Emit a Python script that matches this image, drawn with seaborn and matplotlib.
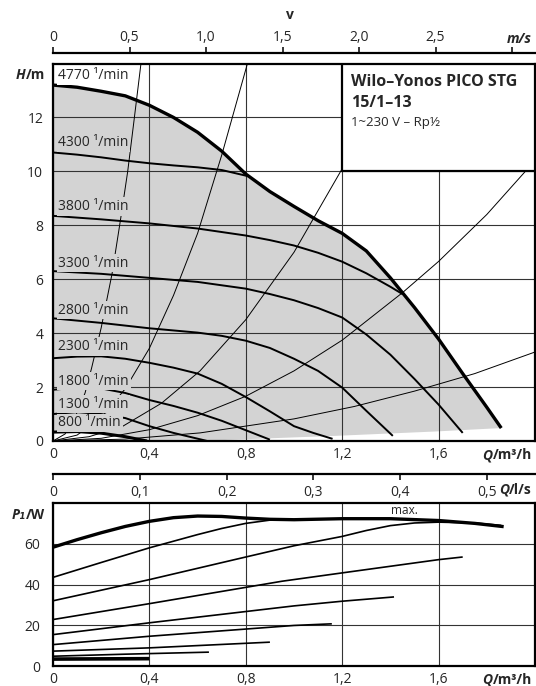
import numpy as np
import pandas as pd
import seaborn as sns
import matplotlib.pyplot as plt
from matplotlib.patches import Rectangle
from matplotlib.ticker import FuncFormatter

# pump curves H(Q) (Q in m3/h, H in m)
speed_labels = ["4770", "4300", "3800", "3300", "2800", "2300", "1800", "1300", "800"]

q_4770 = [0, 0.1, 0.2, 0.3, 0.4, 0.5, 0.6, 0.7, 0.8, 0.9, 1.0, 1.1, 1.2, 1.3,
          1.4, 1.5, 1.6, 1.7, 1.8, 1.86]
h_4770 = [13.2, 13.12, 12.97, 12.8, 12.45, 12.0, 11.45, 10.75, 9.9, 9.25, 8.7, 8.17,
          7.7, 7.05, 6.05, 4.95, 3.78, 2.5, 1.25, 0.48]
q_4300 = [0, 0.1, 0.2, 0.3, 0.4, 0.5, 0.6, 0.7, 0.81]
h_4300 = [10.7, 10.62, 10.52, 10.4, 10.3, 10.22, 10.15, 10.05, 9.82]
q_3800 = [0, 0.2, 0.4, 0.6, 0.8, 0.9, 1.0, 1.1, 1.2, 1.3, 1.4, 1.45]
h_3800 = [8.35, 8.22, 8.07, 7.88, 7.62, 7.45, 7.25, 6.98, 6.65, 6.22, 5.72, 5.45]
q_3300 = [0, 0.2, 0.4, 0.6, 0.8, 0.9, 1.0, 1.1, 1.2, 1.3, 1.4, 1.5, 1.6, 1.7]
h_3300 = [6.3, 6.2, 6.05, 5.9, 5.65, 5.45, 5.22, 4.93, 4.58, 3.95, 3.2, 2.3, 1.35, 0.3]
q_2800 = [0, 0.2, 0.4, 0.6, 0.7, 0.8, 0.9, 1.0, 1.1, 1.2, 1.3, 1.41]
h_2800 = [4.55, 4.38, 4.18, 4.02, 3.9, 3.72, 3.45, 3.05, 2.6, 1.98, 1.12, 0.19]
q_2300 = [0, 0.1, 0.2, 0.3, 0.4, 0.5, 0.6, 0.7, 0.8, 0.9, 1.0, 1.08, 1.16]
h_2300 = [3.07, 3.13, 3.14, 3.05, 2.9, 2.72, 2.5, 2.12, 1.63, 1.1, 0.55, 0.3, 0.08]
q_1800 = [0, 0.1, 0.2, 0.3, 0.4, 0.5, 0.6, 0.7, 0.8, 0.9]
h_1800 = [1.9, 1.98, 1.95, 1.78, 1.52, 1.3, 1.05, 0.75, 0.4, 0.05]
q_1300 = [0, 0.1, 0.2, 0.3, 0.4, 0.5, 0.64]
h_1300 = [1.0, 1.07, 1.0, 0.85, 0.55, 0.3, 0.0]
q_800 = [0, 0.1, 0.2, 0.3, 0.39]
h_800 = [0.33, 0.35, 0.29, 0.16, 0.0]

# lower edge of the grey working range
q_min_edge = [0.6, 1.17, 1.58, 1.86]
h_min_edge = [0.0, 0.19, 0.35, 0.48]

# thin system curves
sys_a_q = [0, 0.05, 0.1, 0.133, 0.16, 0.2, 0.245, 0.28, 0.31, 0.335, 0.365]
sys_a_h = [0, 0.26, 1.05, 1.78, 2.7, 4.2, 6.2, 8.2, 10.0, 11.8, 14.0]
sys_b_q = [0, 0.1, 0.2, 0.3, 0.4, 0.5, 0.6, 0.7, 0.81]
sys_b_h = [0, 0.22, 0.86, 1.94, 3.44, 5.4, 7.7, 10.6, 14.1]
sys_c_q = [0, 0.15, 0.29, 0.45, 0.61, 0.8, 1.0, 1.2]
sys_c_h = [0, 0.16, 0.55, 1.4, 2.6, 4.5, 7.0, 10.1]
sys_d_q = [0, 0.2, 0.4, 0.6, 0.8, 1.0, 1.2, 1.45, 1.6, 1.8, 2.0]
sys_d_h = [0, 0.1, 0.42, 0.94, 1.66, 2.6, 3.74, 5.5, 6.66, 8.4, 10.4]
sys_e_q = [0, 0.3, 0.61, 1.0, 1.25, 1.5, 1.75, 2.0]
sys_e_h = [0, 0.07, 0.3, 0.82, 1.28, 1.85, 2.5, 3.3]

# power input P1(Q)  (W)
pq_4770 = [0, 0.1, 0.2, 0.3, 0.4, 0.5, 0.6, 0.7, 0.8, 0.9, 1.0, 1.2, 1.4, 1.6, 1.75, 1.87]
pw_4770 = [58.3, 62.0, 65.4, 68.5, 71.0, 72.8, 73.6, 73.4, 72.6, 72.0, 71.8, 72.3,
           72.3, 71.4, 70.0, 68.4]
pq_4300 = [0, 0.2, 0.4, 0.6, 0.7, 0.8, 0.9, 0.95]
pw_4300 = [43.5, 50.8, 58.0, 64.5, 67.5, 70.0, 71.6, 72.0]
pq_3800 = [0, 0.4, 0.8, 1.0, 1.2, 1.3, 1.4, 1.5, 1.6, 1.75, 1.86]
pw_3800 = [32.0, 42.4, 53.5, 59.0, 63.6, 66.5, 68.9, 70.2, 70.6, 70.2, 69.0]
pq_3300 = [0, 0.4, 0.95, 1.2, 1.6, 1.70]
pw_3300 = [22.8, 30.6, 41.6, 45.7, 52.2, 53.5]
pq_2800 = [0, 0.4, 1.0, 1.2, 1.415]
pw_2800 = [15.4, 21.2, 29.5, 31.8, 33.9]
pq_2300 = [0, 0.4, 1.0, 1.157]
pw_2300 = [10.5, 14.6, 19.9, 20.7]
pq_1800 = [0, 0.4, 0.9]
pw_1800 = [7.3, 8.9, 11.7]
pq_1300 = [0, 0.3, 0.647]
pw_1300 = [4.8, 5.8, 6.8]
pq_800 = [0, 0.4]
pw_800 = [3.4, 3.6]

V_PER_Q = 1.575   # m/s per m3/h in the pipe (from the top scale)
LS_PER_Q = 1 / 3.6

sns.set_style("ticks", {"axes.edgecolor": "black"})
plt.rcParams["font.family"] = ["Open Sans", "DejaVu Sans"]
plt.rcParams["font.size"] = 10

W, H = 536, 686
fig = plt.figure(figsize=(W / 100, H / 100), dpi=100)
ax = fig.add_axes([53 / W, 245 / H, 482 / W, 377.5 / H])
ax2 = fig.add_axes([53 / W, 20 / H, 482 / W, 163 / H])


def comma(x, pos=None):
    return "0" if abs(x) < 1e-9 else f"{x:.1f}".replace(".", ",")


def unit_label(x, y, sym, unit):
    # italic bold symbol followed by upright bold unit, right aligned at (x, y) px
    t = fig.text(x / W, 1 - y / H, unit, ha="right", va="center", fontweight="bold")
    ax.annotate(sym, xy=(0, 0), xycoords=t, ha="right", va="bottom",
                fontweight="bold", fontstyle="italic", annotation_clip=False)


grid_kw = dict(color="#333333", lw=0.8)

# ---------------- H(Q) chart ----------------
ax.set_xlim(0, 2.0)
ax.set_ylim(0, 14)
ax.set_axisbelow("line")
ax.set_xticks([0, 0.4, 0.8, 1.2, 1.6])
ax.set_yticks([0, 2, 4, 6, 8, 10, 12])
ax.xaxis.set_major_formatter(FuncFormatter(comma))
ax.grid(True, **grid_kw)
ax.tick_params(length=0, labelsize=10)
ax.tick_params(axis="x", pad=4)
ax.tick_params(axis="y", pad=7)
for s in ax.spines.values():
    s.set_linewidth(1.6)

poly_q = q_4770 + q_min_edge[::-1] + q_800[::-1]
poly_h = h_4770 + h_min_edge[::-1] + h_800[::-1]
ax.fill(poly_q, poly_h, color="#d3d3d3", lw=0, zorder=1)

for q, h in [(sys_a_q, sys_a_h), (sys_b_q, sys_b_h), (sys_c_q, sys_c_h),
             (sys_d_q, sys_d_h), (sys_e_q, sys_e_h)]:
    sns.lineplot(x=q, y=h, ax=ax, color="black", lw=0.7, sort=False,
                 estimator=None, zorder=2)

h_curves = [(q_4770, h_4770), (q_4300, h_4300), (q_3800, h_3800), (q_3300, h_3300),
            (q_2800, h_2800), (q_2300, h_2300), (q_1800, h_1800), (q_1300, h_1300),
            (q_800, h_800)]
for i, (q, h) in enumerate(h_curves):
    lw = 2.4 if i == 0 else (2.2 if i == 8 else 1.4)
    sns.lineplot(x=q, y=h, ax=ax, color="black", lw=lw, sort=False,
                 estimator=None, zorder=3, solid_capstyle="butt", solid_joinstyle="round")

label_h = [13.55, 11.07, 8.7, 6.6, 4.85, 3.5, 2.22, 1.37, 0.67]
for i, (lab, yh) in enumerate(zip(speed_labels, label_h)):
    bg = "white" if i == 0 else "#d3d3d3"
    ax.text(0.022, yh, f"{lab} ¹/min", ha="left", va="center", fontsize=10,
            zorder=4, bbox=dict(boxstyle="square,pad=0.12", fc=bg, ec="none"))

ax.add_patch(Rectangle((1.2, 10), 0.8, 4, fc="white", ec="black", lw=1.6, zorder=5))
ax.text(1.2375, 13.33, "Wilo–Yonos PICO STG", fontsize=11.5, fontweight="bold",
        va="center", zorder=6)
ax.text(1.2375, 12.52, "15/1–13", fontsize=11.5, fontweight="bold", va="center", zorder=6)
ax.text(1.2375, 11.81, "1~230 V – Rp½", fontsize=9.5, va="center", zorder=6)
ax.set_xlabel("")
ax.set_ylabel("")

# velocity scale on top
sec_v = ax.secondary_xaxis(1 + 10 / 377.5, functions=(lambda q: q * V_PER_Q,
                                                      lambda v: v / V_PER_Q))
sec_v.set_xticks([0, 0.5, 1.0, 1.5, 2.0, 2.5, 3.0])
sec_v.xaxis.set_major_formatter(FuncFormatter(lambda v, p: "" if v > 2.9 else comma(v)))
sec_v.tick_params(direction="out", length=4, width=1.3, pad=2, labelsize=10)
sec_v.spines["top"].set_linewidth(1.6)
fig.text(290 / W, 1 - 15 / H, "v", ha="center", va="center", fontweight="bold")
fig.text(532 / W, 1 - 39 / H, "m/s", ha="right", va="center",
         fontweight="bold", fontstyle="italic")

unit_label(532, 455, "Q", "/m³/h")
t = fig.text(45 / W, 1 - 75 / H, "/m", ha="right", va="center", fontweight="bold")
ax.annotate("H", xy=(0, 0), xycoords=t, ha="right", va="bottom",
            fontweight="bold", fontstyle="italic", annotation_clip=False)

# ---------------- P1(Q) chart ----------------
ax2.set_xlim(0, 2.0)
ax2.set_ylim(0, 80)
ax2.set_axisbelow("line")
ax2.set_xticks([0, 0.4, 0.8, 1.2, 1.6])
ax2.set_yticks([0, 20, 40, 60])
ax2.xaxis.set_major_formatter(FuncFormatter(comma))
ax2.grid(True, **grid_kw)
ax2.tick_params(length=0, labelsize=10)
ax2.tick_params(axis="x", pad=4)
ax2.tick_params(axis="y", pad=9)
for s in ax2.spines.values():
    s.set_linewidth(1.6)

p_curves = [(pq_4770, pw_4770), (pq_4300, pw_4300), (pq_3800, pw_3800), (pq_3300, pw_3300),
            (pq_2800, pw_2800), (pq_2300, pw_2300), (pq_1800, pw_1800), (pq_1300, pw_1300),
            (pq_800, pw_800)]
for i, (q, p) in enumerate(p_curves):
    lw = 2.4 if i == 0 else (2.6 if i == 8 else 1.2)
    sns.lineplot(x=q, y=p, ax=ax2, color="black", lw=lw, sort=False,
                 estimator=None, zorder=3, solid_capstyle="butt", solid_joinstyle="round")
ax2.text(1.46, 76.3, "max.", ha="center", va="center", fontsize=8.5)
ax2.set_xlabel("")
ax2.set_ylabel("")

# l/s scale between the two charts
sec_l = ax2.secondary_xaxis(1 + 29 / 163, functions=(lambda q: q * LS_PER_Q,
                                                     lambda l: l / LS_PER_Q))
sec_l.set_alignment("bottom")
sec_l.set_xticks([0, 0.1, 0.2, 0.3, 0.4, 0.5])
sec_l.xaxis.set_major_formatter(FuncFormatter(comma))
sec_l.tick_params(axis="x", bottom=True, direction="out", length=4, width=1.3,
                  pad=4, labelsize=10)
sec_l.spines["bottom"].set_linewidth(1.6)

unit_label(532, 490, "Q", "/l/s")
unit_label(532, 680, "Q", "/m³/h")
t = fig.text(45 / W, 1 - 515 / H, "/W", ha="right", va="center", fontweight="bold")
ax.annotate("P₁", xy=(0, 0), xycoords=t, ha="right", va="bottom",
            fontweight="bold", fontstyle="italic", annotation_clip=False)

fig.savefig("out.png", dpi=100)
